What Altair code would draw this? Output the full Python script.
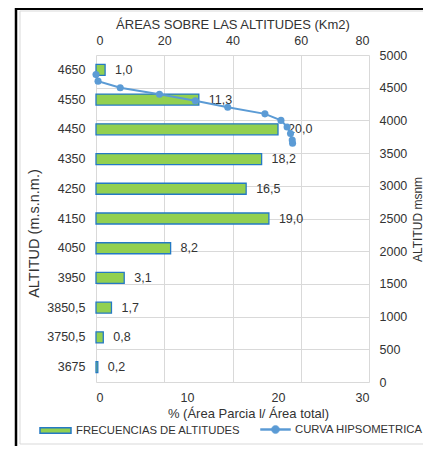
import altair as alt
import pandas as pd

# ---- data ----
altitudes = ["4650", "4550", "4450", "4350", "4250", "4150", "4050", "3950", "3850,5", "3750,5", "3675"]
pct = [1.0, 11.3, 20.0, 18.2, 16.5, 19.0, 8.2, 3.1, 1.7, 0.8, 0.2]
pct_labels = ["1,0", "11,3", "20,0", "18,2", "16,5", "19,0", "8,2", "3,1", "1,7", "0,8", "0,2"]

curve_area = [0.0, 0.6, 7.1, 18.6, 29.1, 38.6, 49.5, 54.2, 56.0, 57.0, 57.5, 57.6]
curve_alt = [4700, 4600, 4500, 4400, 4300, 4200, 4100, 4000, 3900, 3801, 3700, 3650]

top_ticks = [0, 20, 40, 60, 80]
bottom_ticks = [0, 10, 20, 30]
right_ticks = [0, 500, 1000, 1500, 2000, 2500, 3000, 3500, 4000, 4500, 5000]

bar_name = "FRECUENCIAS DE ALTITUDES"
line_name = "CURVA HIPSOMETRICA"

bars_df = pd.DataFrame({"alt": altitudes, "pct": pct, "label": pct_labels, "serie": bar_name})
curve_df = pd.DataFrame({"area": curve_area, "alt": curve_alt,
                         "idx": list(range(len(curve_alt))), "serie": line_name})
frame_df = pd.DataFrame({"k": [0]})

GREEN = "#92D050"
BAR_STROKE = "#2479C4"
BLUE = "#5B9BD5"
TXT = "#333333"

x_bar = alt.X("pct:Q",
              scale=alt.Scale(domain=[0, 30], nice=False),
              axis=alt.Axis(orient="bottom", values=bottom_ticks, title="% (Área Parcia l/ Área total)",
                            grid=False, ticks=False, domain=False, labelPadding=9, titlePadding=4,
                            titleX=152, titleAlign="center"))
y_bar = alt.Y("alt:N", sort=altitudes,
              scale=alt.Scale(paddingInner=0, paddingOuter=0),
              axis=alt.Axis(orient="left", title="ALTITUD (m.s.n.m.)", grid=False, ticks=False,
                            domain=False, labelPadding=11, titleX=-62, titleY=178,
                            titleBaseline="middle", titleAngle=270, titleFontSize=14.5))

bars = alt.Chart(bars_df).mark_bar(size=11, stroke=BAR_STROKE, strokeWidth=1.3).encode(
    x=x_bar,
    y=y_bar,
    color=alt.Color("serie:N", scale=alt.Scale(domain=[bar_name], range=[GREEN]),
                    legend=alt.Legend(title=None, orient="none", legendX=-57, legendY=359,
                                      symbolType="M-1,-0.17H1V0.17H-1Z", symbolSize=961,
                                      symbolStrokeColor=BAR_STROKE, symbolStrokeWidth=1.5,
                                      labelFontSize=11.3, labelColor=TXT, labelOffset=4,
                                      labelLimit=400, padding=0)),
)

labels = alt.Chart(bars_df).mark_text(align="left", baseline="middle", dx=10, fontSize=12.5,
                                      color=TXT).encode(
    x="pct:Q",
    y=alt.Y("alt:N", sort=altitudes),
    text="label:N",
)

black_v = alt.Chart(frame_df).mark_rule(color="black", strokeWidth=2.5).encode(
    x=alt.value(-80), y=alt.value(-47), y2=alt.value(395))
black_h = alt.Chart(frame_df).mark_rule(color="black", strokeWidth=2).encode(
    x=alt.value(-81), x2=alt.value(345), y=alt.value(-46))
gray_l = alt.Chart(frame_df).mark_rule(color="#d9d9d9", strokeWidth=1).encode(
    x=alt.value(-76), y=alt.value(-44), y2=alt.value(389))
gray_t = alt.Chart(frame_df).mark_rule(color="#d9d9d9", strokeWidth=1).encode(
    x=alt.value(-76), x2=alt.value(345), y=alt.value(-44))
gray_b = alt.Chart(frame_df).mark_rule(color="#d9d9d9", strokeWidth=1).encode(
    x=alt.value(-76), x2=alt.value(345), y=alt.value(389))

inner = alt.layer(gray_l, gray_t, gray_b, black_v, black_h, bars, labels)

line = alt.Chart(curve_df).mark_line(
    strokeWidth=2, point=alt.OverlayMarkDef(filled=True, size=50)
).encode(
    x=alt.X("area:Q", scale=alt.Scale(domain=[0, 80], nice=False),
            axis=alt.Axis(orient="top", values=top_ticks, title="ÁREAS SOBRE LAS ALTITUDES (Km2)",
                          grid=True, ticks=False, domain=False, labelPadding=8, titlePadding=3)),
    y=alt.Y("alt:Q", scale=alt.Scale(domain=[0, 5000], nice=False),
            axis=alt.Axis(orient="right", values=right_ticks, format="d", title="ALTITUD msnm",
                          grid=True, ticks=False, domain=False, labelPadding=10, titleX=48,
                          titleY=164, titleBaseline="middle", titleAngle=270, titleFontSize=12)),
    order="idx:Q",
    color=alt.Color("serie:N", scale=alt.Scale(domain=[line_name], range=[BLUE]),
                    legend=alt.Legend(title=None, orient="none", legendX=164, legendY=359,
                                      symbolType="M-1,-0.06H1V0.06H-1Z M0.27,0 A0.27,0.27 0 1 1 -0.27,0 A0.27,0.27 0 1 1 0.27,0 Z",
                                      symbolSize=900, symbolFillColor=BLUE, symbolStrokeColor=BLUE,
                                      symbolStrokeWidth=0.5, labelFontSize=11.3, labelColor=TXT,
                                      labelOffset=4, labelLimit=400, padding=0)),
)

chart = alt.layer(inner, line).resolve_scale(
    x="independent", y="independent", color="independent"
).properties(
    width=273, height=327,
    padding={"left": 88, "top": 47, "right": 54, "bottom": 64},
    autosize=alt.AutoSizeParams(type="none"),
).configure(
    font="Liberation Sans"
).configure_view(
    stroke=None
).configure_axis(
    labelFontSize=12.5, labelColor=TXT, titleFontSize=13, titleFontWeight="normal",
    titleColor=TXT, gridColor="#d9d9d9", gridWidth=1
)

chart.save("out.html", embed_options={"renderer": "svg", "actions": False})
